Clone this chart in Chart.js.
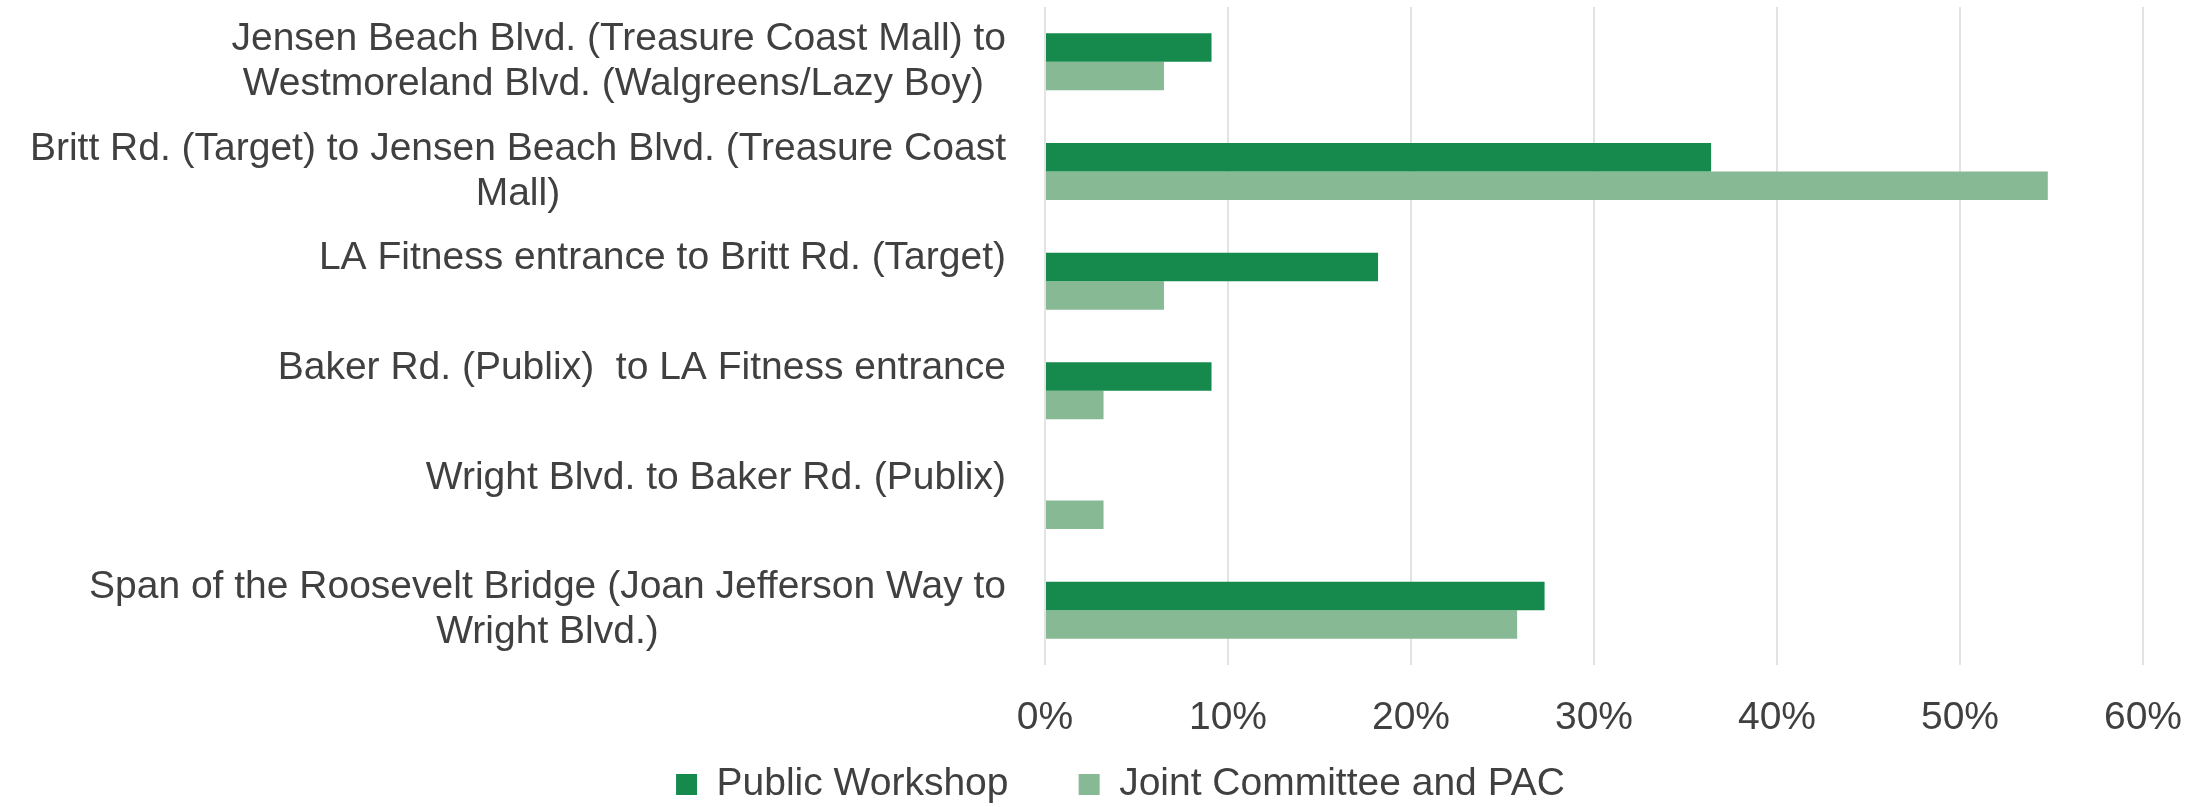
<!DOCTYPE html>
<html>
<head>
<meta charset="utf-8">
<title>Preferred segment</title>
<script src="https://cdn.jsdelivr.net/npm/chart.js@4.4.1/dist/chart.umd.min.js"></script>
<style>
  html, body { margin: 0; padding: 0; background: #ffffff; }
  #wrap { width: 2206px; height: 807px; }
</style>
</head>
<body>
<div id="wrap"><canvas id="segmentChart"></canvas></div>
<script>
// Road segments, top to bottom. Wrapped ones are split into lines.
const segments = [
  ["Jensen Beach Blvd. (Treasure Coast Mall) to", "Westmoreland Blvd. (Walgreens/Lazy Boy) "],
  ["Britt Rd. (Target) to Jensen Beach Blvd. (Treasure Coast", "Mall)"],
  "LA Fitness entrance to Britt Rd. (Target)",
  "Baker Rd. (Publix)  to LA Fitness entrance",
  "Wright Blvd. to Baker Rd. (Publix)",
  ["Span of the Roosevelt Bridge (Joan Jefferson Way to", "Wright Blvd.)"],
];

// Share of responses (%)
const publicWorkshop = [9.1, 36.4, 18.2, 9.1, 0, 27.3];
const jointCommittee = [6.5, 54.8, 6.5, 3.2, 3.2, 25.8];

const seriesNames = ["Public Workshop", "Joint Committee and PAC"];
const percentTicks = [0, 10, 20, 30, 40, 50, 60];

const FONT = '"Liberation Sans", Arial, sans-serif';
const FONT_SIZE = 39;
const TEXT = "#404040";
const LINE_H = 45;
const LABEL_GAP = 39;
const PAD_LEFT = 91;
const PLOT_LEFT = 1045;

// Category labels: block right-aligned to the axis, lines centred inside it,
// and a single line sits where the first of two lines would.
const segmentLabels = {
  id: "segmentLabels",
  afterDraw(chart) {
    const scale = chart.scales.y;
    const ctx = chart.ctx;
    ctx.save();
    ctx.font = `${FONT_SIZE}px ${FONT}`;
    ctx.fillStyle = TEXT;
    ctx.textAlign = "center";
    ctx.textBaseline = "middle";
    const right = scale.right - LABEL_GAP;
    chart.data.labels.forEach((label, i) => {
      const lines = [].concat(label);
      const widest = Math.max(...lines.map((l) => ctx.measureText(l).width));
      const cx = right - widest / 2;
      const y0 = scale.getPixelForValue(i) - LINE_H / 2;
      lines.forEach((line, j) => ctx.fillText(line, cx, y0 + j * LINE_H));
    });
    ctx.restore();
  },
};

const ctx = document.getElementById("segmentChart");

new Chart(ctx, {
  type: "bar",
  data: {
    labels: segments,
    datasets: [
      {
        label: seriesNames[0],
        data: publicWorkshop,
        backgroundColor: "#168A4D",
      },
      {
        label: seriesNames[1],
        data: jointCommittee,
        backgroundColor: "#88B995",
      },
    ],
  },
  options: {
    indexAxis: "y",
    responsive: true,
    maintainAspectRatio: false,
    devicePixelRatio: 1,
    animation: false,
    layout: {
      padding: { top: 7, right: 56, bottom: -7, left: PAD_LEFT },
    },
    datasets: {
      bar: {
        categoryPercentage: 0.52,
        barPercentage: 1,
      },
    },
    plugins: {
      tooltip: { enabled: false },
      legend: {
        position: "bottom",
        labels: {
          color: TEXT,
          font: { family: FONT, size: FONT_SIZE },
          boxWidth: 21,
          boxHeight: 21,
          padding: 16,
          // wider gap after the first entry
          generateLabels(chart) {
            const items = Chart.defaults.plugins.legend.labels.generateLabels(chart);
            items[0].text += "     ";
            return items;
          },
        },
      },
    },
    scales: {
      x: {
        min: percentTicks[0],
        max: percentTicks[percentTicks.length - 1],
        border: { display: false },
        grid: {
          color: "#E3E3E3",
          lineWidth: 2,
          drawTicks: false,
        },
        ticks: {
          stepSize: percentTicks[1] - percentTicks[0],
          color: TEXT,
          font: { family: FONT, size: FONT_SIZE, lineHeight: 1.5 },
          padding: 24,
          callback: (v) => v + "%",
        },
        afterFit(scale) {
          scale.height = 84;
        },
      },
      y: {
        border: { display: false },
        grid: { display: false, drawTicks: false },
        ticks: { display: false },
        afterFit(scale) {
          scale.width = PLOT_LEFT - PAD_LEFT;
        },
      },
    },
  },
  plugins: [segmentLabels],
});
</script>
</body>
</html>
